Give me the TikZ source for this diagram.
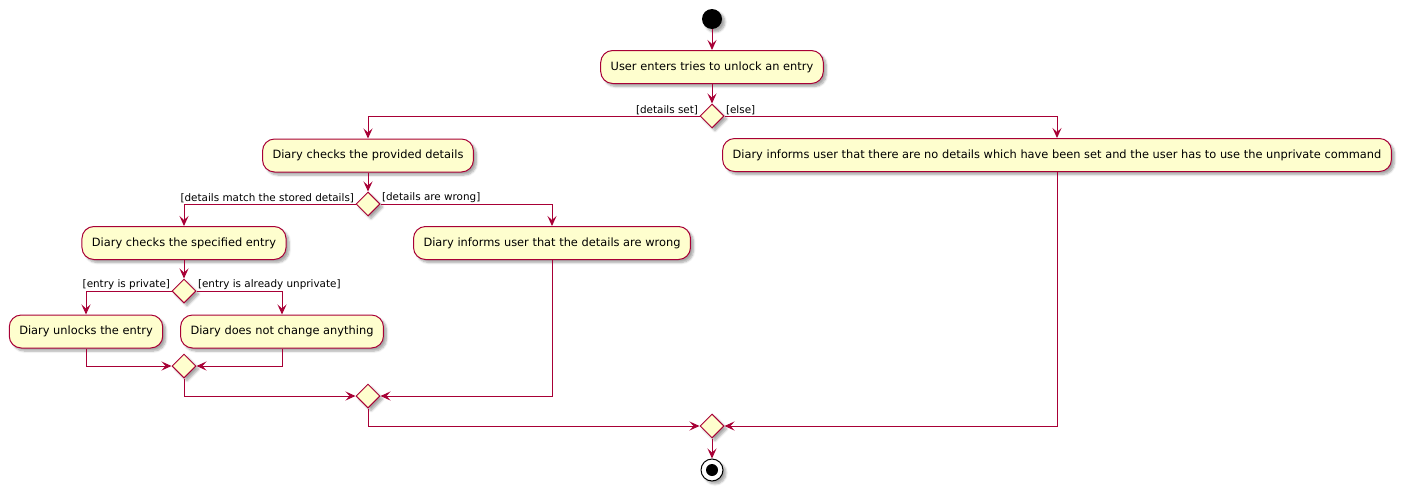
\documentclass[tikz,border=0pt]{standalone}
\usepackage{fontspec}
\setmainfont{DejaVu Sans}
\usepackage{xcolor}
\usetikzlibrary{arrows.meta, positioning, shapes.geometric, shadows.blur}
\definecolor{umlred}{HTML}{A80036}
\definecolor{umlfill}{HTML}{FEFECE}
\tikzset{
    umlshadow/.style={blur shadow={shadow xshift=3pt, shadow yshift=-3pt, shadow blur steps=6, shadow opacity=35}},
    activity/.style={draw=umlred, fill=umlfill, line width=1pt, rounded corners=12pt,
        minimum height=33pt, inner xsep=10pt, font=\fontsize{11.4}{13}\selectfont, umlshadow},
    branch/.style={diamond, draw=umlred, fill=umlfill, line width=1pt,
        minimum width=24pt, minimum height=24pt, inner sep=0pt, umlshadow},
    guard/.style={font=\fontsize{10.4}{12}\selectfont, inner sep=1pt},
    flow/.style={draw=umlred, line width=1pt, -{Stealth[length=10pt, width=9pt, inset=4pt]}},
}

\begin{document}
\begin{tikzpicture}[x=1pt, y=-1pt]
    \useasboundingbox (0,0) rectangle (1402,490);

    % Start and first activity
    \node[circle, fill=black, minimum size=20pt, inner sep=0pt, umlshadow] (start) at (712,19) {};
    \node[activity] (unlock) at (712,67) {User enters tries to unlock an entry};
    \node[branch] (isset) at (712,116) {};

    % Details set / else
    \node[activity] (checkdetails) at (368,155.5) {Diary checks the provided details};
    \node[activity] (nodetails) at (1057,155) {Diary informs user that there are no details which have been set and the user has to use the unprivate command};
    \node[branch] (ismatch) at (368,204) {};

    % Details match / wrong
    \node[activity] (checkentry) at (184,243) {Diary checks the specified entry};
    \node[activity] (wrong) at (552,243) {Diary informs user that the details are wrong};
    \node[branch] (isprivate) at (184,291) {};

    % Entry private / already unprivate
    \node[activity] (unlocks) at (86,331.5) {Diary unlocks the entry};
    \node[activity] (nochange) at (282,331.5) {Diary does not change anything};

    % Merges and end
    \node[branch] (merge1) at (184,366) {};
    \node[branch] (merge2) at (368,396) {};
    \node[branch] (merge3) at (712,426) {};
    \node[circle, draw=black, fill=white, line width=1pt, minimum size=22pt, inner sep=0pt, umlshadow] (stop) at (712,470) {};
    \node[circle, fill=black, minimum size=12pt, inner sep=0pt] (stopdot) at (stop) {};

    % Arrows
    \draw[flow] (start) -- (unlock);
    \draw[flow] (unlock) -- (isset);
    \draw[flow] (isset.west) node[guard, above left] {[details set]} -| (checkdetails.north);
    \draw[flow] (isset.east) node[guard, above right] {[else]} -| (nodetails.north);
    \draw[flow] (checkdetails) -- (ismatch);
    \draw[flow] (ismatch.west) node[guard, above left] {[details match the stored details]} -| (checkentry.north);
    \draw[flow] (ismatch.east) node[guard, above right] {[details are wrong]} -| (wrong.north);
    \draw[flow] (checkentry) -- (isprivate);
    \draw[flow] (isprivate.west) node[guard, above left] {[entry is private]} -| (unlocks.north);
    \draw[flow] (isprivate.east) node[guard, above right] {[entry is already unprivate]} -| (nochange.north);
    \draw[flow] (unlocks.south) |- (merge1.west);
    \draw[flow] (nochange.south) |- (merge1.east);
    \draw[flow] (merge1.south) |- (merge2.west);
    \draw[flow] (wrong.south) |- (merge2.east);
    \draw[flow] (merge2.south) |- (merge3.west);
    \draw[flow] (nodetails.south) |- (merge3.east);
    \draw[flow] (merge3) -- (stop);
\end{tikzpicture}
\end{document}
